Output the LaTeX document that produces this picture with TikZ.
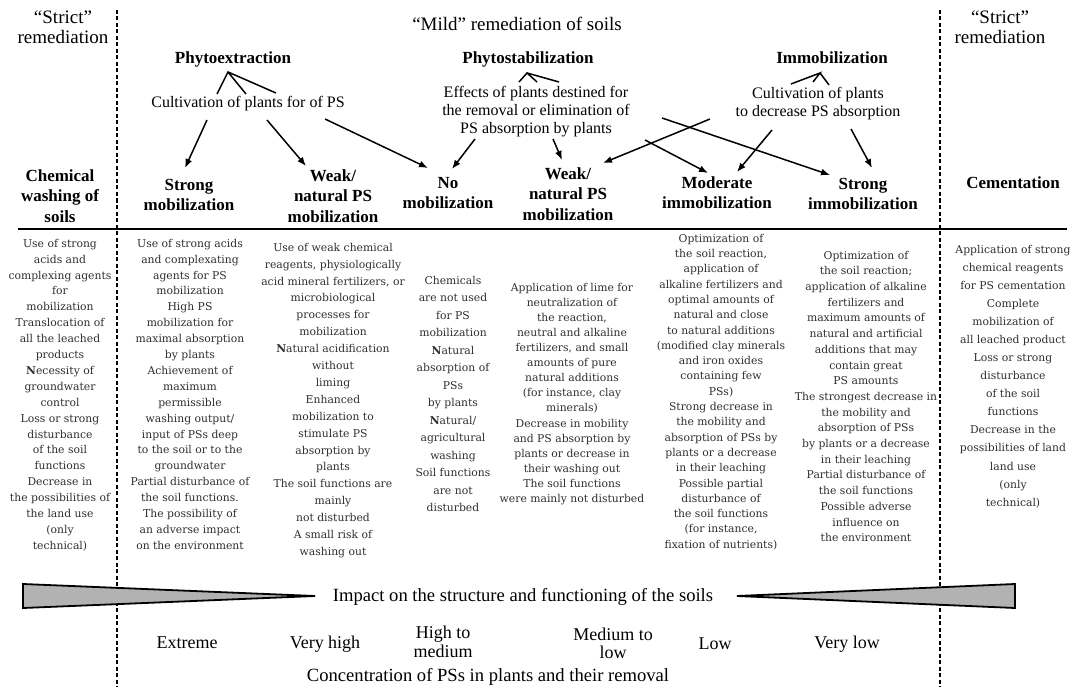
\documentclass[tikz,border=0pt]{standalone}
\usepackage{fontspec}
\setmainfont{Liberation Serif}
\newfontfamily\bodyfont{DejaVu Serif}
\usetikzlibrary{arrows.meta}
\begin{document}
\begin{tikzpicture}[x=1pt,y=-1pt,
  body/.style={anchor=north, align=center, inner sep=0pt, text=black!82, font=\bodyfont\fontsize{10.8}{#1}\selectfont},
  head/.style={anchor=north, align=center, inner sep=0pt, font=\bfseries\fontsize{17}{20.5}\selectfont},
  headone/.style={anchor=base, inner sep=0pt, font=\bfseries\fontsize{17}{20.5}\selectfont},
  toplab/.style={align=center, inner sep=0pt, font=\fontsize{19}{20}\selectfont},
  midlab/.style={align=center, inner sep=0pt, font=\fontsize{16}{18}\selectfont},
  botlab/.style={align=center, inner sep=0pt, font=\fontsize{18}{#1}\selectfont},
  widelab/.style={align=center, inner sep=0pt, font=\fontsize{18.6}{20}\selectfont},
  arr/.style={line width=1.5pt, -{Latex[length=9pt,width=7pt]}},
  fan/.style={line width=1.5pt},
  sep/.style={line width=1.6pt, dash pattern=on 4pt off 2.5pt},
  wedge/.style={draw=black, line width=1.8pt, fill=black!30}
]
\useasboundingbox (0,0) rectangle (1083,687);

% separators
\coordinate (sepLt) at (117,10); \coordinate (sepLb) at (117,687);
\coordinate (sepRt) at (940,10); \coordinate (sepRb) at (940,687);
\draw[sep] (sepLt) -- (sepLb);
\draw[sep] (sepRt) -- (sepRb);
\coordinate (ruleL) at (18,229); \coordinate (ruleR) at (1067,229);
\draw[line width=2.8pt] (ruleL) -- (ruleR);

% top labels
\node[toplab, anchor=north] (strictL) at (63,9) {\strut “Strict”\\remediation};
\node[toplab, anchor=north] (strictR) at (1000,9) {\strut “Strict”\\remediation};
\node[toplab, anchor=base] (mild) at (517,31) {“Mild” remediation of soils};

\node[headone] (phytoex) at (233,64) {Phytoextraction};
\node[headone] (phytost) at (528,64) {Phytostabilization};
\node[headone] (immob) at (832,64) {Immobilization};

\node[midlab, anchor=base] (cult1) at (248,108) {Cultivation of plants for of PS};
\node[midlab, anchor=north] (effects) at (536,84.4) {\strut Effects of plants destined for\\the removal or elimination of\\PS absorption by plants};
\node[midlab, anchor=north] (cult2) at (818,85.4) {\strut Cultivation of plants\\to decrease PS absorption};

% headings
\node[head] (chem) at (60,166.65) {\strut Chemical\\washing of\\soils};
\node[head] (strongmob) at (189,175.65) {\strut Strong\\mobilization};
\node[head] (weakA) at (333,166.65) {\strut Weak/\\natural PS\\mobilization};
\node[head] (nomob) at (448,173.65) {\strut No\\mobilization};
\node[head] (weakB) at (568,164.65) {\strut Weak/\\natural PS\\mobilization};
\node[head] (moder) at (717,173.65) {\strut Moderate\\immobilization};
\node[head] (strongimm) at (863,174.65) {\strut Strong\\immobilization};
\node[headone] (cement) at (1013,189) {Cementation};

% fans
\coordinate (fa0) at (228,72); \coordinate (fa1) at (217,94); \coordinate (fa2) at (246,94); \coordinate (fa3) at (276,93);
\draw[fan] (fa1) -- (fa0) -- (fa2) (fa0) -- (fa3);
\coordinate (fb0) at (527,73); \coordinate (fb1) at (519,82); \coordinate (fb2) at (537,82); \coordinate (fb3) at (559,82);
\draw[fan] (fb1) -- (fb0) -- (fb2) (fb0) -- (fb3);
\coordinate (fc0) at (820,73); \coordinate (fc1) at (791,84); \coordinate (fc2) at (813,82); \coordinate (fc3) at (829,85);
\draw[fan] (fc1) -- (fc0) -- (fc2) (fc0) -- (fc3);

% arrows
\coordinate (a1s) at (207,120); \coordinate (a1e) at (185,168);
\coordinate (a2s) at (267,120); \coordinate (a2e) at (306,166);
\coordinate (a3s) at (325,119); \coordinate (a3e) at (428,168);
\coordinate (a4s) at (475,139); \coordinate (a4e) at (452,169);
\coordinate (a5s) at (553,139); \coordinate (a5e) at (562,160);
\coordinate (a6s) at (710,119); \coordinate (a6e) at (603,163);
\coordinate (a7s) at (662,118); \coordinate (a7e) at (830,175);
\coordinate (a8s) at (645,140); \coordinate (a8e) at (708,173);
\coordinate (a9s) at (772,130); \coordinate (a9e) at (737,172);
\coordinate (a10s) at (851,129); \coordinate (a10e) at (872,168);
\foreach \i in {1,...,10} {\draw[arr] (a\i s) -- (a\i e);}

% column texts
\node[body=15.9] (c1) at (60,235.9) {\strut Use of strong\\acids and\\complexing agents\\for\\mobilization\\Translocation of\\all the leached\\products\\\textbf{N}ecessity of\\groundwater\\control\\Loss or strong\\disturbance\\of the soil\\functions\\Decrease in\\the possibilities of\\the land use\\(only\\technical)};
\node[body=15.9] (c2) at (190,235.9) {\strut Use of strong acids\\and complexating\\agents for PS\\mobilization\\High PS\\mobilization for\\maximal absorption\\by plants\\Achievement of\\maximum\\permissible\\washing output/\\input of PSs deep\\to the soil or to the\\groundwater\\Partial disturbance of\\the soil functions.\\The possibility of\\an adverse impact\\on the environment};
\node[body=16.9] (c3) at (333,239.2) {\strut Use of weak chemical\\reagents, physiologically\\acid mineral fertilizers, or\\microbiological\\processes for\\mobilization\\\textbf{N}atural acidification\\without\\liming\\Enhanced\\mobilization to\\stimulate PS\\absorption by\\plants\\The soil functions are\\mainly\\not disturbed\\A small risk of\\washing out};
\node[body=17.5] (c4) at (453,271.75) {\strut Chemicals\\are not used\\for PS\\mobilization\\\textbf{N}atural\\absorption of\\PSs\\by plants\\\textbf{N}atural/\\agricultural\\washing\\Soil functions\\are not\\disturbed};
\node[body=15.1] (c5) at (572,280.4) {\strut Application of lime for\\neutralization of\\the reaction,\\neutral and alkaline\\fertilizers, and small\\amounts of pure\\natural additions\\(for instance, clay\\minerals)\\Decrease in mobility\\and PS absorption by\\plants or decrease in\\their washing out\\The soil functions\\were mainly not disturbed};
\node[body=15.3] (c6) at (721,231.3) {\strut Optimization of\\the soil reaction,\\application of\\alkaline fertilizers and\\optimal amounts of\\natural and close\\to natural additions\\(modified clay minerals\\and iron oxides\\containing few\\PSs)\\Strong decrease in\\the mobility and\\absorption of PSs by\\plants or a decrease\\in their leaching\\Possible partial\\disturbance of\\the soil functions\\(for instance,\\fixation of nutrients)};
\node[body=15.7] (c7) at (866,248) {\strut Optimization of\\the soil reaction;\\application of alkaline\\fertilizers and\\maximum amounts of\\natural and artificial\\additions that may\\contain great\\PS amounts\\The strongest decrease in\\the mobility and\\absorption of PSs\\by plants or a decrease\\in their leaching\\Partial disturbance of\\the soil functions\\Possible adverse\\influence on\\the environment};
\node[body=18.07] (c8) at (1013,240.35) {\strut Application of strong\\chemical reagents\\for PS cementation\\Complete\\mobilization of\\all leached product\\Loss or strong\\disturbance\\of the soil\\functions\\Decrease in the\\possibilities of land\\land use\\(only\\technical)};

% wedges
\coordinate (wl1) at (23,584); \coordinate (wl2) at (315,596); \coordinate (wl3) at (23,608);
\draw[wedge] (wl1) -- (wl2) -- (wl3) -- cycle;
\coordinate (wr1) at (1015,584); \coordinate (wr2) at (737,596); \coordinate (wr3) at (1015,608);
\draw[wedge] (wr1) -- (wr2) -- (wr3) -- cycle;

% bottom labels
\node[widelab, anchor=base] (impact) at (523,601) {Impact on the structure and functioning of the soils};
\node[botlab=18, anchor=base] (extreme) at (187,648) {Extreme};
\node[botlab=18, anchor=base] (veryhigh) at (325,648) {Very high};
\node[botlab=17, anchor=north] (hightomed) at (443,626.1) {\strut High to\\medium};
\node[botlab=18, anchor=north] (medtolow) at (613,627.4) {\strut Medium to\\low};
\node[botlab=18, anchor=base] (low) at (715,649) {Low};
\node[botlab=18, anchor=base] (verylow) at (847,648) {Very low};
\node[widelab, anchor=base] (conc) at (488,681) {Concentration of PSs in plants and their removal};
\end{tikzpicture}
\end{document}
